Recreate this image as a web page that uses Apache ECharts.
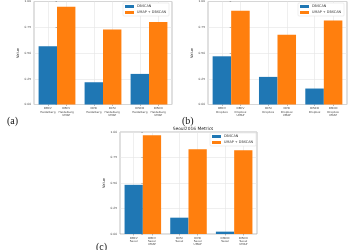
<!DOCTYPE html>
<html>
<head>
<meta charset="utf-8">
<script src="https://cdn.jsdelivr.net/npm/echarts@6/dist/echarts.min.js"></script>
<style>
  html, body { margin: 0; padding: 0; background: #fff; }
  #chart { width: 350px; height: 250px; }
</style>
</head>
<body>
<div id="chart"></div>
<script>
// tick labels under each bar, per panel
const labelsA = ['DBCV\nHeidelberg', 'DBCV\nHeidelberg\nUMAP', 'DCSI\nHeidelberg', 'DCSI\nHeidelberg\nUMAP', 'DISCO\nHeidelberg', 'DISCO\nHeidelberg\nUMAP']
const labelsB = ['DBCV\nDropbox', 'DBCV\nDropbox\nUMAP', 'DCSI\nDropbox', 'DCSI\nDropbox\nUMAP', 'DISCO\nDropbox', 'DISCO\nDropbox\nUMAP']
const labelsC = ['DBCV\nSeoul', 'DBCV\nSeoul\nUMAP', 'DCSI\nSeoul', 'DCSI\nSeoul\nUMAP', 'DISCO\nSeoul', 'DISCO\nSeoul\nUMAP']
const metrics = ['DBCV', 'DCSI', 'DISCO']

const dbscanA = [0.565, 0.216, 0.297]
const umapA = [0.948, 0.729, 0.80]
const dbscanB = [0.468, 0.268, 0.155]
const umapB = [0.91, 0.677, 0.816]
const dbscanC = [0.482, 0.16, 0.023]
const umapC = [0.967, 0.83, 0.82]

const BLUE = '#1f77b4'
const ORANGE = '#ff7f0e'
const FONT = 'DejaVu Sans'
const labelPos = [-0.2, 0.2, 0.8, 1.2, 1.8, 2.2]

const panels = [
  { grid: { left: 34, top: 1, width: 138, height: 103.5 }, labels: labelsA, dbscan: dbscanA, umap: umapA, legend: { left: 123, top: 3 } },
  { grid: { left: 208, top: 1, width: 139, height: 103.5 }, labels: labelsB, dbscan: dbscanB, umap: umapB, legend: { left: 298, top: 3 } },
  { grid: { left: 120, top: 132, width: 137, height: 102 }, labels: labelsC, dbscan: dbscanC, umap: umapC, legend: { left: 210, top: 133 } }
]

const grids = [], xAxes = [], yAxes = [], series = [], legends = []
panels.forEach((p, i) => {
  grids.push(Object.assign({ show: true, borderColor: '#999', borderWidth: 0.6, backgroundColor: 'transparent' }, p.grid))
  // bar axis
  xAxes.push({
    type: 'category', gridIndex: i, data: metrics,
    axisLine: { show: false }, axisTick: { show: false }, axisLabel: { show: false }, splitLine: { show: false }
  })
  // label axis, one label under each bar
  xAxes.push({
    type: 'value', gridIndex: i, min: -0.5, max: 2.5, position: 'bottom',
    axisLine: { show: false },
    axisTick: { show: true, customValues: labelPos, length: 1.5, lineStyle: { color: '#777', width: 0.5 } },
    splitLine: { show: true, lineStyle: { color: '#e4e4e4', width: 0.6 } },
    axisLabel: {
      customValues: labelPos, fontSize: 2.8, lineHeight: 3.3, color: '#444', fontFamily: FONT, margin: 2.5,
      formatter: v => p.labels[labelPos.findIndex(x => Math.abs(x - v) < 1e-6)] || ''
    }
  })
  yAxes.push({
    type: 'value', gridIndex: i, min: 0, max: 1, interval: 0.25,
    name: 'Value', nameLocation: 'middle', nameGap: 14, nameRotate: 90,
    nameTextStyle: { fontSize: 3.6, color: '#333', fontFamily: FONT },
    axisLine: { show: false },
    axisTick: { show: true, length: 1.5, lineStyle: { color: '#777', width: 0.5 } },
    splitLine: { show: true, lineStyle: { color: '#e4e4e4', width: 0.6 } },
    axisLabel: { fontSize: 2.9, color: '#444', fontFamily: FONT, margin: 3, formatter: v => v.toFixed(2) }
  })
  series.push({
    name: 'DBSCAN', type: 'bar', xAxisIndex: i * 2, yAxisIndex: i, data: p.dbscan,
    barGap: '0%', barCategoryGap: '20%', itemStyle: { color: BLUE }
  })
  series.push({
    name: 'UMAP + DBSCAN', type: 'bar', xAxisIndex: i * 2, yAxisIndex: i, data: p.umap,
    barGap: '0%', barCategoryGap: '20%', itemStyle: { color: ORANGE }
  })
  legends.push({
    data: ['DBSCAN', 'UMAP + DBSCAN'], orient: 'vertical', left: p.legend.left, top: p.legend.top,
    itemWidth: 9, itemHeight: 3, itemGap: 3, padding: [2, 3, 2, 2],
    borderColor: '#ddd', borderWidth: 0.5, borderRadius: 1, backgroundColor: '#fff',
    icon: 'rect', selectedMode: false,
    textStyle: { fontSize: 3.4, color: '#333', fontFamily: FONT, padding: [0, 0, 0, -2] }
  })
})

const chart = echarts.init(document.getElementById('chart'), null, { renderer: 'canvas' })
chart.setOption({
  animation: false,
  title: [
    { text: 'Seoul2016 Metrics', left: 188, top: 122, textAlign: 'center', textStyle: { fontSize: 4.4, fontWeight: 'normal', color: '#222', fontFamily: FONT } },
    { text: '(a)', left: 2, top: 111, textStyle: { fontSize: 10, fontWeight: 'normal', color: '#111', fontFamily: 'Liberation Serif' } },
    { text: '(b)', left: 177, top: 111, textStyle: { fontSize: 10, fontWeight: 'normal', color: '#111', fontFamily: 'Liberation Serif' } },
    { text: '(c)', left: 91, top: 237, textStyle: { fontSize: 10, fontWeight: 'normal', color: '#111', fontFamily: 'Liberation Serif' } }
  ],
  legend: legends,
  grid: grids,
  xAxis: xAxes,
  yAxis: yAxes,
  series: series
})
</script>
</body>
</html>
